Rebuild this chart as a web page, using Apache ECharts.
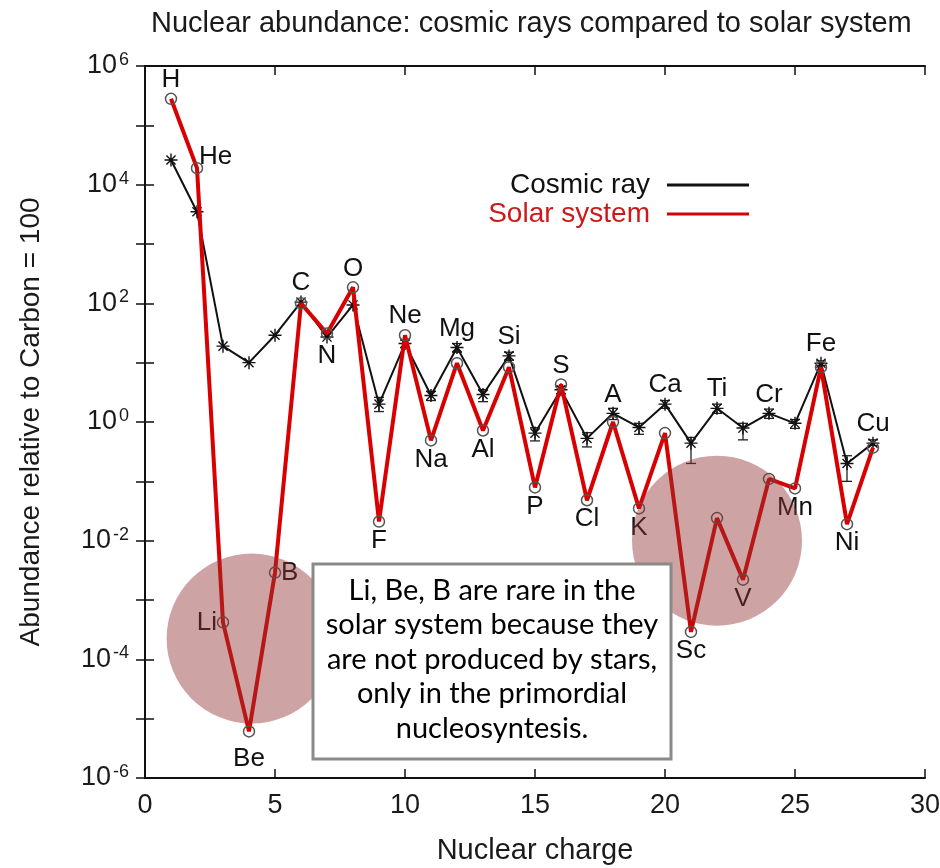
<!DOCTYPE html>
<html>
<head>
<meta charset="utf-8">
<script src="https://cdn.jsdelivr.net/npm/echarts@6/dist/echarts.min.js"></script>
<style>
html,body{margin:0;padding:0;background:#fff;}
#main{width:940px;height:868px;}
</style>
</head>
<body>
<div id="main"></div>
<script>
// ---- data ----
const charge = [1,2,3,4,5,6,7,8,9,10,11,12,13,14,15,16,17,18,19,20,21,22,23,24,25,26,27,28];
const elements = ['H','He','Li','Be','B','C','N','O','F','Ne','Na','Mg','Al','Si','P','S','Cl','A','K','Ca','Sc','Ti','V','Cr','Mn','Fe','Ni','Cu'];
const labelPos = ['top','right','left','bottom','right','top','bottom','top','bottom','top','bottom','top','bottom','top','bottom','top','bottom','top','bottom','top','bottom','top','bottom','top','bottom','top','bottom','top'];
const cosmicRay = [2.6e4, 3.5e3, 19, 10, 29, 105, 27, 94, 2.0, 21, 2.8, 18, 2.9, 13, 0.65, 3.5, 0.53, 1.4, 0.81, 2.0, 0.44, 1.7, 0.79, 1.4, 0.95, 9.8, 0.20, 0.44];
const cosmicErrLow = [null,null,null,null,null,null,null,null, 1.5, 18, 2.3, 15, 2.2, 11, 0.48, 3.0, 0.38, 1.1, 0.62, 1.7, 0.20, 1.4, 0.50, 1.15, 0.78, 9.0, 0.10, 0.40];
const cosmicErrHigh = [null,null,null,null,null,null,null,null, 2.6, 24, 3.3, 21, 3.5, 15, 0.80, 4.0, 0.66, 1.7, 0.95, 2.3, 0.55, 2.0, 0.95, 1.65, 1.10, 10.7, 0.27, 0.50];
const solarSystem = [2.8e5, 1.9e4, 4.2e-4, 6.1e-6, 2.9e-3, 100, 31, 186, 0.021, 29, 0.49, 9.8, 0.72, 8.4, 0.079, 4.3, 0.048, 1.0, 0.035, 0.65, 2.9e-4, 0.024, 2.2e-3, 0.11, 0.076, 8.4, 0.019, 0.37];
const xTicks = [0, 5, 10, 15, 20, 25, 30];
const titleText = 'Nuclear abundance: cosmic rays compared to solar system';
const noteLines = ['Li, Be, B are rare in the', 'solar system because they', 'are not produced by stars,', 'only in the primordial', 'nucleosyntesis.'];

const FONT = '"Liberation Sans", Arial, Helvetica, sans-serif';
const chart = echarts.init(document.getElementById('main'));

const crData = charge.map((z, i) => [z, cosmicRay[i]]);
const ssData = charge.map((z, i) => [z, solarSystem[i]]);
const errData = [];
charge.forEach((z, i) => { if (cosmicErrLow[i] != null) errData.push([z, cosmicErrLow[i], cosmicErrHigh[i]]); });
const labelData = charge.map((z, i) => {
  const p = labelPos[i];
  let v;
  if (p === 'top') v = Math.max(cosmicRay[i], solarSystem[i]);
  else if (p === 'bottom') v = Math.min(cosmicRay[i], solarSystem[i]);
  else v = solarSystem[i];
  const lab = { position: p, distance: 6 };
  if (elements[i] === 'He') lab.offset = [-4, -11];
  if (elements[i] === 'Be') lab.offset = [0, 8];
  return { value: [z, v], name: elements[i], label: lab };
});

const asterisk = 'path://M5,0L5,10M0,5L10,5M1.5,1.5L8.5,8.5M8.5,1.5L1.5,8.5';

function supLabel(v) {
  const e = Math.round(Math.log10(v));
  if (e % 2 !== 0) return '';
  return '{b|10}{s|' + e + '}';
}

const axisLineStyle = { lineStyle: { color: '#111', width: 2 } };
const tickStyle = { show: true, inside: true, length: 9, lineStyle: { color: '#111', width: 1.5 } };

chart.setOption({
  animation: false,
  backgroundColor: '#fff',
  title: {
    text: titleText, left: 146, top: 4,
    textStyle: { fontFamily: FONT, fontSize: 29, fontWeight: 'normal', color: '#1a1a1a' }
  },
  legend: {
    orient: 'vertical', right: 186, top: 166, align: 'right', itemGap: 1,
    icon: 'rect', itemWidth: 82, itemHeight: 3,
    textStyle: { fontFamily: FONT, fontSize: 28, padding: [0, 12, 0, 0] },
    data: [
      { name: 'Cosmic ray', textStyle: { color: '#111' }, itemStyle: { color: '#111', borderWidth: 0 } },
      { name: 'Solar system', textStyle: { color: '#cc1a1a' }, itemStyle: { color: '#d80000', borderWidth: 0 } }
    ]
  },
  grid: { left: 145, right: 15, top: 66, bottom: 90, containLabel: false, outerBoundsMode: 'none' },
  xAxis: [
    {
      type: 'value', min: xTicks[0], max: xTicks[xTicks.length - 1], interval: 5, position: 'bottom',
      axisLine: axisLineStyle, axisTick: tickStyle, splitLine: { show: false },
      axisLabel: { fontFamily: FONT, fontSize: 27, color: '#1a1a1a', margin: 14 },
      name: 'Nuclear charge', nameLocation: 'middle', nameGap: 58,
      nameTextStyle: { fontFamily: FONT, fontSize: 29, color: '#1a1a1a' }
    },
    {
      type: 'value', min: xTicks[0], max: xTicks[xTicks.length - 1], interval: 5, position: 'top',
      axisLine: axisLineStyle, axisTick: tickStyle, splitLine: { show: false },
      axisLabel: { show: false }
    }
  ],
  yAxis: [
    {
      type: 'log', logBase: 10, min: 1e-6, max: 1e6, interval: 1, position: 'left',
      axisLine: axisLineStyle, axisTick: tickStyle, splitLine: { show: false }, minorTick: { show: false },
      axisLabel: {
        margin: 16, formatter: supLabel,
        rich: {
          b: { fontFamily: FONT, fontSize: 27, color: '#1a1a1a', lineHeight: 30 },
          s: { fontFamily: FONT, fontSize: 18, color: '#1a1a1a', lineHeight: 18, verticalAlign: 'top', padding: [0, 0, 0, 2] }
        }
      },
      name: 'Abundance relative to Carbon = 100', nameLocation: 'middle', nameGap: 100,
      nameTextStyle: { fontFamily: FONT, fontSize: 28, color: '#1a1a1a' }
    },
    {
      type: 'log', logBase: 10, min: 1e-6, max: 1e6, interval: 1, position: 'right',
      axisLine: axisLineStyle, axisTick: tickStyle, splitLine: { show: false },
      axisLabel: { show: false }
    }
  ],
  series: [
    {
      name: 'errbar', type: 'custom', xAxisIndex: 0, yAxisIndex: 0, z: 3, silent: true,
      data: errData,
      renderItem: function (params, api) {
        const x = api.value(0);
        const p1 = api.coord([x, api.value(1)]);
        const p2 = api.coord([x, api.value(2)]);
        const w = 5;
        return {
          type: 'group',
          children: [
            { type: 'line', shape: { x1: p1[0], y1: p1[1], x2: p2[0], y2: p2[1] }, style: { stroke: '#222', lineWidth: 1.3 } },
            { type: 'line', shape: { x1: p1[0] - w, y1: p1[1], x2: p1[0] + w, y2: p1[1] }, style: { stroke: '#222', lineWidth: 1.3 } },
            { type: 'line', shape: { x1: p2[0] - w, y1: p2[1], x2: p2[0] + w, y2: p2[1] }, style: { stroke: '#222', lineWidth: 1.3 } }
          ]
        };
      }
    },
    {
      name: 'Cosmic ray', type: 'line', z: 4, data: crData,
      symbol: asterisk, symbolSize: 13,
      lineStyle: { color: '#111', width: 2 },
      itemStyle: { color: 'transparent', borderColor: '#111', borderWidth: 1.4 }
    },
    {
      name: 'Solar system', type: 'line', z: 5, data: ssData,
      symbol: 'circle', symbolSize: 11,
      lineStyle: { color: '#d80000', width: 4 },
      itemStyle: { color: 'transparent', borderColor: '#555', borderWidth: 1.5 }
    },
    {
      name: 'labels', type: 'scatter', z: 6, symbolSize: 0, silent: true,
      data: labelData,
      itemStyle: { opacity: 1 },
      label: {
        show: true, formatter: '{b}', fontFamily: FONT, fontSize: 26, color: '#111', opacity: 1
      }
    }
  ]
});

// annotation circles positioned in data space, and the note box
const c1 = chart.convertToPixel({ gridIndex: 0 }, [4.1, Math.pow(10, -3.65)]);
const c2 = chart.convertToPixel({ gridIndex: 0 }, [22.0, 1e-2]);
chart.setOption({
  graphic: [
    { type: 'circle', z: 50, silent: true, shape: { cx: c1[0], cy: c1[1], r: 85 }, style: { fill: 'rgba(144,51,51,0.45)' } },
    { type: 'circle', z: 50, silent: true, shape: { cx: c2[0], cy: c2[1], r: 85 }, style: { fill: 'rgba(144,51,51,0.45)' } },
    { type: 'rect', z: 60, silent: true, shape: { x: 313, y: 564, width: 358, height: 195 }, style: { fill: '#fff', stroke: '#8a8a8a', lineWidth: 3 } },
    {
      type: 'text', z: 61, silent: true,
      style: {
        text: noteLines.join('\n'), x: 492, y: 573, align: 'center', verticalAlign: 'top',
        font: '29px Lato, "Open Sans", sans-serif', lineHeight: 34.5, fill: '#000'
      }
    }
  ]
});
</script>
</body>
</html>
